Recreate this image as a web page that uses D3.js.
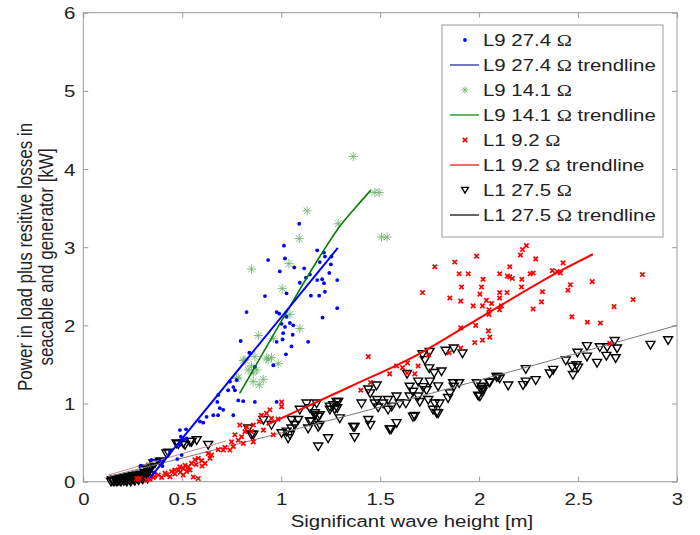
<!DOCTYPE html>
<html>
<head>
<meta charset="utf-8">
<script src="https://cdn.jsdelivr.net/npm/d3@7"></script>
<style>
  body { margin: 0; background: #fff; }
  svg text { font-family: "Liberation Sans", Arial, sans-serif; fill: #222; }
</style>
</head>
<body>
<svg id="chart" width="700" height="535"></svg>
<script>
// ---- data: [wave height m, power kW] ----
var l9_274 = [
  [0.29,0.205],[0.345,0.28],[0.387,0.27],[0.36,0.12],[0.40,0.20],[0.438,0.385],[0.475,0.29],[0.497,0.34],
  [0.488,0.47],[0.505,0.54],[0.493,0.575],[0.519,0.67],[0.488,0.66],[0.522,0.555],[0.589,0.77],[0.623,0.83],
  [0.657,0.85],[0.606,0.755],[0.677,1.02],[0.69,0.94],[0.707,0.92],[0.681,0.85],[0.682,1.11],[0.732,1.17],
  [0.741,1.28],[0.758,1.21],[0.766,1.17],[0.758,0.85],[0.783,1.04],[0.808,1.03],[0.867,1.02],[0.775,1.30],
  [0.795,1.80],[0.825,2.17],[0.839,1.65],[0.867,1.47],[0.918,2.375],[0.934,2.835],[0.96,1.49],[0.977,1.79],
  [0.977,2.17],[0.977,1.02],[0.99,2.15],[0.993,2.69],[1.002,2.02],[1.007,1.82],[1.01,1.90],[1.014,3.02],
  [1.019,2.857],[1.019,1.98],[1.024,1.63],[1.027,2.11],[1.027,2.41],[1.044,2.03],[1.052,1.73],[1.058,1.88],
  [1.061,2.00],[1.066,2.74],[1.091,3.30],[1.094,2.545],[1.116,2.73],[1.125,2.61],[1.136,1.79],[1.145,2.65],
  [1.15,2.38],[1.182,2.96],[1.182,2.58],[1.192,2.38],[1.195,2.81],[1.207,2.59],[1.209,2.10],[1.216,2.93],
  [1.216,2.54],[1.221,2.88],[1.221,2.43],[1.243,2.67],[1.251,2.78],[1.254,2.88],[1.283,2.58],[1.283,2.22]
];
var l9_274_trend = [[0.337,0.05],[1.286,2.99]];

var l9_141 = [
  [0.775,1.32],[0.783,1.33],[0.808,1.55],[0.817,1.56],[0.833,1.43],[0.85,1.48],[0.85,2.72],[0.858,1.28],
  [0.859,1.39],[0.867,1.60],[0.876,1.43],[0.884,1.87],[0.889,1.24],[0.909,1.31],[0.926,1.58],[0.934,1.56],
  [0.951,1.59],[0.96,1.83],[0.985,1.51],[1.005,2.47],[1.039,2.79],[1.044,2.14],[1.091,3.11],[1.094,1.96],
  [1.131,3.465],[1.288,3.30],[1.364,4.16],[1.473,3.70],[1.495,3.70],[1.507,3.13],[1.535,3.13]
];
var l9_141_trend = [[0.79,1.13],[1.0,2.05],[1.2,2.90],[1.3,3.28],[1.38,3.52],[1.453,3.73]];

var l1_92 = [
  // low cluster
  [0.27,0.04],[0.278,0.03],[0.286,0.045],[0.32,0.02],[0.337,0.03],[0.354,0.055],[0.379,0.085],[0.396,0.055],
  [0.413,0.11],[0.438,0.065],[0.446,0.13],[0.463,0.10],[0.463,0.15],[0.48,0.15],[0.488,0.19],[0.505,0.17],
  [0.505,0.085],[0.514,0.21],[0.522,0.13],[0.53,0.19],[0.539,0.15],[0.547,0.235],[0.556,0.06],[0.564,0.28],
  [0.581,0.30],[0.581,0.04],[0.598,0.27],[0.615,0.235],[0.631,0.36],[0.64,0.30],[0.648,0.34],[0.682,0.41],
  [0.707,0.405],[0.716,0.44],[0.741,0.405],[0.749,0.51],[0.758,0.45],[0.766,0.60],[0.783,0.53],[0.791,0.725],
  [0.80,0.575],[0.808,0.49],[0.817,0.64],[0.826,0.70],[0.85,0.64],[0.859,0.725],[0.859,0.51],[0.889,0.77],
  [0.90,0.85],[0.91,0.66],[0.926,0.875],[0.943,0.92],[0.951,0.81],[0.96,0.60],[0.984,0.80],[1.002,1.02],
  [1.002,0.96],[0.36,0.07],[0.42,0.09],[0.49,0.12],[0.53,0.16],[0.57,0.22],[0.60,0.20],
  // upper scatter
  [1.402,1.17],[1.44,1.60],[1.451,1.27],[1.548,1.38],[1.583,1.48],[1.613,1.46],[1.636,1.39],[1.638,1.52],
  [1.675,1.38],[1.692,1.48],[1.714,2.42],[1.743,1.62],[1.776,2.75],[1.849,1.65],[1.852,2.35],[1.877,2.81],
  [1.899,2.66],[1.907,2.31],[1.907,1.97],[1.907,1.71],[1.911,2.49],[1.945,2.66],[1.97,2.25],[1.978,1.78],
  [1.983,2.00],[1.987,2.886],[2.004,2.40],[2.012,2.49],[2.017,2.25],[2.017,1.81],[2.02,2.59],[2.037,2.32],
  [2.047,1.93],[2.05,2.20],[2.05,2.14],[2.054,1.85],[2.063,2.28],[2.104,2.66],[2.104,2.42],[2.104,2.35],
  [2.104,2.20],[2.113,2.25],[2.141,2.42],[2.143,2.63],[2.155,2.75],[2.155,2.62],[2.168,2.60],[2.209,2.90],
  [2.214,2.49],[2.216,2.59],[2.219,2.97],[2.239,3.02],[2.258,2.66],[2.273,2.67],[2.273,2.21],[2.286,2.85],
  [2.315,2.30],[2.32,2.43],[2.37,2.70],[2.394,2.69],[2.411,2.67],[2.424,2.80],[2.449,2.45],[2.461,2.52],
  [2.469,2.11],[2.547,2.04],[2.572,2.56],[2.613,2.03],[2.66,1.77],[2.682,2.24],[2.778,2.33],[2.825,2.65]
];
var l1_92_trend = [[0.926,0.725],[1.347,1.215],[1.70,1.64],[1.987,2.07],[2.42,2.71],[2.575,2.91]];
var l1_92_trend_low = [[0.126,0.085],[0.72,0.52]];

var l1_275 = [
  // dense cluster near the origin
  [0.14,0.0],[0.145,0.02],[0.15,0.01],[0.155,0.0],[0.16,0.03],[0.165,0.01],[0.17,0.0],[0.175,0.03],
  [0.18,0.01],[0.185,0.04],[0.19,0.0],[0.195,0.02],[0.20,0.04],[0.205,0.01],[0.21,0.05],[0.215,0.02],
  [0.22,0.0],[0.225,0.04],[0.23,0.06],[0.235,0.02],[0.24,0.0],[0.245,0.05],[0.25,0.07],[0.255,0.03],
  [0.26,0.01],[0.265,0.06],[0.27,0.08],[0.275,0.04],[0.28,0.02],[0.285,0.07],[0.29,0.09],[0.295,0.05],
  [0.30,0.03],[0.305,0.08],[0.31,0.11],[0.315,0.06],[0.32,0.10],[0.325,0.04],[0.33,0.12],[0.335,0.08],
  [0.303,0.15],[0.32,0.17],[0.328,0.15],[0.345,0.19],[0.354,0.235],[0.362,0.235],[0.387,0.256],[0.396,0.256],
  [0.42,0.36],[0.43,0.37],[0.471,0.49],[0.48,0.48],[0.505,0.49],[0.514,0.47],[0.539,0.51],[0.547,0.51],
  [0.573,0.53],[0.631,0.47],[0.833,0.68],[0.85,0.60],[0.859,0.60],[0.91,0.79],[0.951,0.725],
  // main scatter
  [1.002,0.62],[1.027,0.64],[1.035,0.555],[1.044,0.60],[1.052,0.79],[1.052,0.68],[1.069,0.725],[1.086,0.79],
  [1.094,0.92],[1.128,1.0],[1.136,0.68],[1.145,0.94],[1.145,0.77],[1.153,0.77],[1.17,0.85],[1.17,0.875],
  [1.179,1.0],[1.187,0.83],[1.187,0.70],[1.187,0.45],[1.195,0.85],[1.195,0.725],[1.237,0.555],[1.246,0.92],
  [1.246,0.96],[1.263,0.98],[1.27,0.925],[1.28,1.02],[1.283,0.94],[1.288,1.02],[1.296,0.81],[1.364,0.70],
  [1.371,0.57],[1.371,0.70],[1.406,1.0],[1.44,1.18],[1.44,0.79],[1.45,1.13],[1.45,0.725],[1.473,1.0],
  [1.482,1.23],[1.485,1.045],[1.49,0.95],[1.515,1.0],[1.54,1.045],[1.54,0.92],[1.548,0.67],[1.555,0.67],
  [1.558,0.96],[1.583,1.09],[1.583,0.75],[1.599,1.0],[1.63,1.0],[1.636,1.38],[1.649,1.215],[1.649,1.09],
  [1.666,1.15],[1.666,0.83],[1.675,0.84],[1.692,1.28],[1.692,1.09],[1.70,1.02],[1.714,1.63],[1.717,1.21],
  [1.726,1.555],[1.734,1.17],[1.743,1.045],[1.748,1.45],[1.75,1.66],[1.751,1.28],[1.767,0.92],[1.773,1.39],
  [1.776,1.0],[1.785,0.88],[1.793,1.22],[1.793,0.875],[1.80,1.0],[1.81,1.41],[1.831,1.675],[1.843,1.07],
  [1.852,1.13],[1.869,1.26],[1.872,1.705],[1.872,1.215],[1.899,1.26],[1.916,1.64],[1.988,1.26],[1.995,1.10],
  [2.004,1.09],[2.012,1.215],[2.012,1.17],[2.017,1.15],[2.02,1.19],[2.05,1.27],[2.054,1.27],[2.088,1.34],
  [2.096,1.34],[2.104,1.32],[2.147,1.23],[2.222,1.235],[2.236,1.44],[2.236,1.28],[2.286,1.30],[2.357,1.385],
  [2.374,1.43],[2.438,1.55],[2.471,1.47],[2.474,1.365],[2.492,1.49],[2.497,1.65],[2.50,1.46],[2.545,1.735],
  [2.545,1.60],[2.596,1.52],[2.61,1.72],[2.643,1.61],[2.647,1.72],[2.685,1.80],[2.69,1.58],[2.697,1.705],
  [2.866,1.75],[2.955,1.81]
];
var l1_275_trend = [[0.126,0.064],[1.347,0.853],[3.0,2.0]];

var xTicks = [0, 0.5, 1, 1.5, 2, 2.5, 3];
var yTicks = [0, 1, 2, 3, 4, 5, 6];
var legendLabels = ['L9 27.4 ', 'L9 27.4 ', 'L9 14.1 ', 'L9 14.1 ', 'L1 9.2 ', 'L1 9.2 ', 'L1 27.5 ', 'L1 27.5 '];

// ---- drawing ----
var svg = d3.select('#chart');
var x = d3.scaleLinear().domain([0, 3]).range([83.3, 677]);
var y = d3.scaleLinear().domain([0, 6]).range([481.7, 12.7]);
var axisColor = '#9a9a9a';
var fs = 17, stretch = 1.2;   // the figure's text is widened horizontally

svg.append('rect')
  .attr('x', x(0)).attr('y', y(6))
  .attr('width', x(3) - x(0)).attr('height', y(0) - y(6))
  .attr('fill', 'none').attr('stroke', axisColor).attr('stroke-width', 1);

var xb = svg.append('g').attr('transform', 'translate(0,' + y(0) + ')')
  .call(d3.axisBottom(x).tickValues(xTicks).tickSizeInner(-5).tickSizeOuter(0).tickFormat(function(d) { return d; }));
var xt = svg.append('g').attr('transform', 'translate(0,' + y(6) + ')')
  .call(d3.axisTop(x).tickValues(xTicks).tickSizeInner(-5).tickSizeOuter(0).tickFormat(''));
var yl = svg.append('g').attr('transform', 'translate(' + x(0) + ',0)')
  .call(d3.axisLeft(y).tickValues(yTicks).tickSizeInner(-5).tickSizeOuter(0).tickFormat(function(d) { return d; }));
var yr = svg.append('g').attr('transform', 'translate(' + x(3) + ',0)')
  .call(d3.axisRight(y).tickValues(yTicks).tickSizeInner(-5).tickSizeOuter(0).tickFormat(''));
[xb, xt, yl, yr].forEach(function(g) {
  g.select('.domain').remove();
  g.selectAll('line').attr('stroke', axisColor);
  g.selectAll('text').attr('font-size', fs).attr('fill', '#222')
    .style('font-family', '"Liberation Sans", Arial, sans-serif');
});
xb.selectAll('text').attr('y', 23.3).attr('dy', 0).attr('transform', 'scale(' + stretch + ',1)');
yl.selectAll('text').attr('x', -8 / stretch).attr('dy', '0.36em').attr('transform', 'scale(' + stretch + ',1)');

var line = d3.line().x(function(d) { return x(d[0]); }).y(function(d) { return y(d[1]); });
var curve = d3.line().curve(d3.curveMonotoneX).x(function(d) { return x(d[0]); }).y(function(d) { return y(d[1]); });

// marker shapes
function drawDot(g) { g.append('circle').attr('r', 1.9).attr('fill', '#0000ff'); }
function drawStar(g, s) {
  s = s || 4.6;
  var t = s * 0.72;
  g.append('path')
    .attr('d', 'M' + (-s) + ',0H' + s + 'M0,' + (-s) + 'V' + s +
               'M' + (-t) + ',' + (-t) + 'L' + t + ',' + t + 'M' + (-t) + ',' + t + 'L' + t + ',' + (-t))
    .attr('stroke', '#6fb56f').attr('stroke-width', 1).attr('fill', 'none').attr('opacity', 0.85);
}
function drawCross(g) {
  var s = 2.2;
  g.append('path')
    .attr('d', 'M' + (-s) + ',' + (-s) + 'L' + s + ',' + s + 'M' + (-s) + ',' + s + 'L' + s + ',' + (-s))
    .attr('stroke', '#ff0000').attr('stroke-width', 1.7).attr('fill', 'none');
}
function drawTri(g, k) {
  k = k || 1;
  g.append('path').attr('d', 'M' + (-4.5 * k) + ',' + (-3.5 * k) + 'L' + (4.5 * k) + ',' + (-3.5 * k) + 'L0,' + (4.2 * k) + 'Z')
    .attr('stroke', '#000').attr('stroke-width', 1.4).attr('fill', 'none');
}

function scatter(data, shape) {
  svg.append('g').selectAll('g').data(data).enter().append('g')
    .attr('transform', function(d) { return 'translate(' + x(d[0]) + ',' + y(d[1]) + ')'; })
    .each(function() { shape(d3.select(this)); });
}

// black series first, then red, then green, then blue
scatter(l1_275, drawTri);
svg.append('path').datum(l1_275_trend).attr('d', curve).attr('fill', 'none')
  .attr('stroke', '#7a7a7a').attr('stroke-width', 1);
scatter(l1_92, drawCross);
svg.append('path').datum(l1_92_trend_low).attr('d', line).attr('fill', 'none')
  .attr('stroke', '#c88a8a').attr('stroke-width', 1);
svg.append('path').datum(l1_92_trend).attr('d', curve).attr('fill', 'none')
  .attr('stroke', '#ff0000').attr('stroke-width', 2);
scatter(l9_141, drawStar);
scatter(l9_274, drawDot);
svg.append('path').datum(l9_141_trend).attr('d', curve).attr('fill', 'none')
  .attr('stroke', '#008000').attr('stroke-width', 1.6);
svg.append('path').datum(l9_274_trend).attr('d', line).attr('fill', 'none')
  .attr('stroke', '#0000ff').attr('stroke-width', 2);

// legend
var legend = svg.append('g');
legend.append('rect').attr('x', 442).attr('y', 25).attr('width', 221).attr('height', 212)
  .attr('fill', '#fff').attr('stroke', '#9a9a9a').attr('stroke-width', 1);
var legendMarks = [
  { shape: drawDot }, { stroke: '#1a1a8c' },
  { shape: function(g) { drawStar(g, 3.6); } }, { stroke: '#008000' },
  { shape: drawCross }, { stroke: '#ff0000' },
  { shape: function(g) { drawTri(g, 0.75); } }, { stroke: '#000' }
];
legendLabels.forEach(function(lab, i) {
  var cy = 40 + i * 25;
  var m = legendMarks[i];
  if (m.shape) {
    var g = legend.append('g').attr('transform', 'translate(465,' + cy + ')');
    m.shape(g);
  } else {
    legend.append('line').attr('x1', 450).attr('x2', 479).attr('y1', cy).attr('y2', cy)
      .attr('stroke', m.stroke).attr('stroke-width', 1.2);
  }
  var t = legend.append('text').attr('transform', 'translate(483,' + cy + ') scale(' + stretch + ',1)')
    .attr('dy', '0.36em').attr('font-size', fs).text(lab);
  t.append('tspan').style('font-family', '"Liberation Serif", "Times New Roman", serif').text('\u03A9');
  if (i % 2 === 1) t.append('tspan').text(' trendline');
});

// axis titles
svg.append('text').attr('transform', 'translate(412,527) scale(' + stretch + ',1)').attr('text-anchor', 'middle')
  .attr('font-size', fs).text('Significant wave height [m]');
svg.append('text').attr('transform', 'translate(31.5,257) scale(' + stretch + ',1) rotate(-90)').attr('text-anchor', 'middle')
  .attr('font-size', fs).text('Power in load plus resitive losses in');
svg.append('text').attr('transform', 'translate(52.5,257) scale(' + stretch + ',1) rotate(-90)').attr('text-anchor', 'middle')
  .attr('font-size', fs).text('seacable and generator [kW]');
</script>
</body>
</html>
